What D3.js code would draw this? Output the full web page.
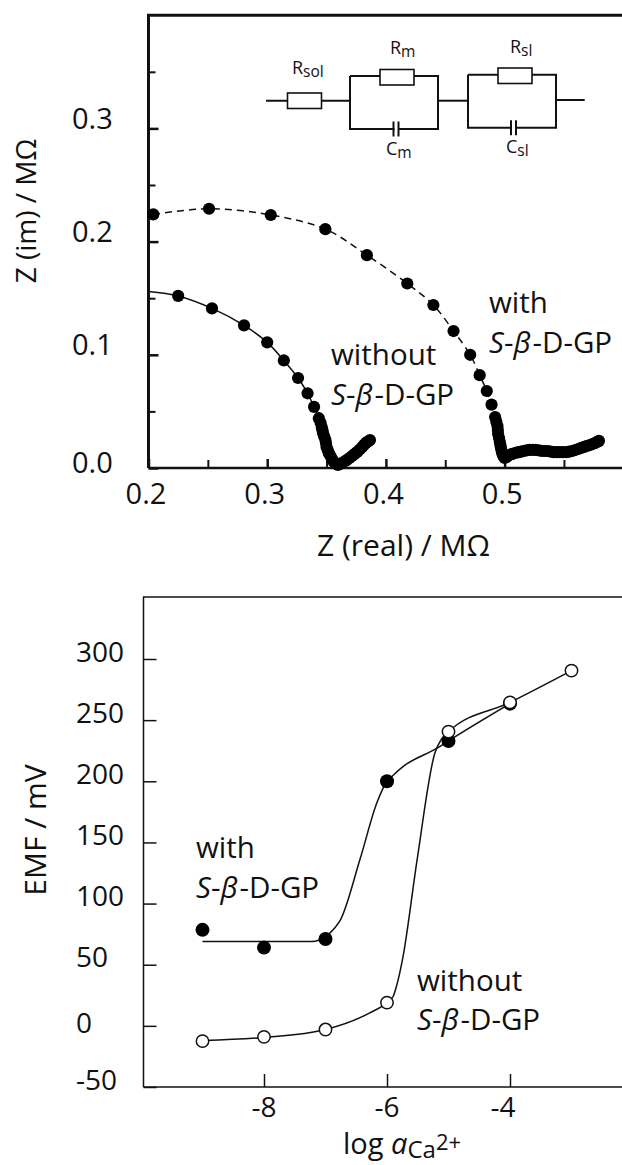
<!DOCTYPE html>
<html>
<head>
<meta charset="utf-8">
<script src="https://cdn.jsdelivr.net/npm/d3@7"></script>
<style>
  html, body { margin: 0; padding: 0; background: #fff; }
  text { font-family: "Open Sans", sans-serif; fill: #111; }
</style>
</head>
<body>
<div id="chart"></div>
<script>
// Top panel: impedance plot
const withReal = [0.204, 0.251, 0.303, 0.349, 0.384, 0.418, 0.440, 0.457, 0.471, 0.479, 0.485, 0.489, 0.492,
  0.493, 0.494, 0.4943, 0.4945, 0.4953, 0.496, 0.4965, 0.497, 0.4978, 0.4985, 0.4993, 0.500,
  0.502, 0.504, 0.506, 0.508, 0.510, 0.512, 0.514, 0.516, 0.5185, 0.521, 0.5235, 0.526, 0.529, 0.5315,
  0.534, 0.5365, 0.539, 0.5415, 0.544, 0.5465, 0.549, 0.552, 0.5545, 0.557, 0.5595, 0.562, 0.5645,
  0.567, 0.5695, 0.572, 0.574, 0.576, 0.578, 0.5795];
const withImag = [0.224, 0.229, 0.2235, 0.211, 0.188, 0.163, 0.144, 0.121, 0.100, 0.082, 0.068, 0.056, 0.045,
  0.041, 0.037, 0.0335, 0.030, 0.0265, 0.023, 0.020, 0.017, 0.014, 0.0115, 0.010, 0.009,
  0.010, 0.0115, 0.0122, 0.013, 0.0135, 0.014, 0.0145, 0.015, 0.0155, 0.016, 0.016, 0.016, 0.0155, 0.015,
  0.015, 0.015, 0.0145, 0.014, 0.014, 0.014, 0.014, 0.014, 0.0145, 0.015, 0.0159, 0.0168, 0.0177,
  0.0186, 0.0195, 0.0203, 0.0212, 0.022, 0.023, 0.024];
const withoutReal = [0.225, 0.2535, 0.2805, 0.300, 0.314, 0.326, 0.334, 0.3395, 0.3435,
  0.345, 0.346, 0.3465, 0.347, 0.348, 0.349, 0.3495, 0.350, 0.351, 0.352, 0.3533, 0.3546, 0.3558, 0.357,
  0.3583, 0.3596, 0.3613, 0.363, 0.365, 0.367, 0.3693, 0.3715, 0.3735, 0.3756, 0.378, 0.380, 0.3815,
  0.383, 0.3848, 0.3866];
const withoutImag = [0.152, 0.141, 0.126, 0.111, 0.095, 0.0795, 0.066, 0.054, 0.044,
  0.040, 0.036, 0.0335, 0.031, 0.028, 0.025, 0.022, 0.0186, 0.0158, 0.013, 0.0105, 0.008, 0.006, 0.0044,
  0.0035, 0.0027, 0.0035, 0.0044, 0.0057, 0.007, 0.0088, 0.0106, 0.0123, 0.014, 0.0163, 0.0186, 0.0203,
  0.022, 0.0233, 0.0247];
const withoutStart = [0.2, 0.156]; // line runs on to the axis, no marker there

const realTicks = [0.2, 0.3, 0.4, 0.5];
const realMinor = [0.25, 0.35, 0.45, 0.55];
const imagTicks = [0.0, 0.1, 0.2, 0.3];
const imagMinor = [0.05, 0.15, 0.25, 0.35];

// Bottom panel: potentiometric response
const logActivity = [-9, -8, -7, -6, -5, -4, -3];
const emfWith = [78.5, 64, 71, 200, 233, 263.5];
const emfWithout = [-12.5, -9, -3, 19, 240.6, 264.5, 290.5];
const fitWithX = [-9, -8, -7.22, -7, -6.85, -6.764, -6.44, -6.16, -6, -5.9, -5.74, -5.17, -5, -4];
const fitWithY = [69, 69, 69, 73, 80, 86, 136, 183, 200, 205, 212, 227.5, 233, 263.5];
const fitWithoutX = [-9, -8, -7, -6.28, -6, -5.9, -5.84, -5.74, -5.51, -5.22, -5.12, -5, -4, -3];
const fitWithoutY = [-12, -9.5, -3, 10.6, 19, 24, 33.5, 56.5, 136, 223.4, 234, 240.6, 264.5, 290.5];
const logTicks = [-8, -6, -4];
const emfTicks = [-50, 0, 50, 100, 150, 200, 250, 300];

const W = 622, H = 1165;
const svg = d3.select("#chart").append("svg")
  .attr("width", W).attr("height", H)
  .style("display", "block");

const FONT = 29.5;

function styleAxis(g, sw, size) {
  g.selectAll("path,line").attr("stroke", "#111").attr("stroke-width", sw);
  g.selectAll("text").style("font-family", '"Open Sans", sans-serif').style("font-size", size + "px").attr("fill", "#111");
}

// S-beta-D-GP label, two lines
function label(x, y1, y2, first) {
  svg.append("text").attr("x", x).attr("y", y1).attr("font-size", FONT).text(first);
  const t = svg.append("text").attr("x", x).attr("y", y2).attr("font-size", FONT);
  t.append("tspan").attr("font-style", "italic").text("S");
  t.append("tspan").text("-");
  t.append("tspan").attr("font-style", "italic").text("β");
  t.append("tspan").attr("dx", 2).text("-D-GP");
}

// ---------- top panel
const x1 = d3.scaleLinear().domain([0.2, 0.6]).range([148.5, 623.3]);
const y1 = d3.scaleLinear().domain([0, 0.4]).range([468, 15.2]);

const top1 = svg.append("g");
const ax1 = top1.append("g").attr("transform", "translate(0,468)")
  .call(d3.axisBottom(x1).tickValues(realTicks).tickSize(-9).tickFormat(d3.format(".1f")));
ax1.select(".domain").attr("d", `M148.5,0H622`);
ax1.selectAll("text").attr("x", -3).attr("y", 36).attr("dy", 0);
styleAxis(ax1, 2.5, 29);

const ax1m = top1.append("g").attr("transform", "translate(0,468)")
  .call(d3.axisBottom(x1).tickValues(realMinor).tickSize(-8).tickFormat(""));
ax1m.select(".domain").remove();
styleAxis(ax1m, 2, 29);

const ay1 = top1.append("g").attr("transform", "translate(148.5,0)")
  .call(d3.axisLeft(y1).tickValues(imagTicks).tickSize(-10).tickFormat(d3.format(".1f")));
ay1.select(".domain").attr("d", `M0,468V15.2`);
ay1.selectAll("text").attr("text-anchor", "start").attr("x", -76.5).attr("dy", 0)
  .attr("y", d => (d === 0 ? 4 : 0));
styleAxis(ay1, 2.5, 29);
ay1.select(".domain").attr("stroke-width", 3);

const ay1m = top1.append("g").attr("transform", "translate(148.5,0)")
  .call(d3.axisLeft(y1).tickValues(imagMinor).tickSize(-7).tickFormat(""));
ay1m.select(".domain").remove();
styleAxis(ay1m, 2, 29);

top1.append("line").attr("x1", x1(0.2) - 1.5).attr("x2", W)
  .attr("y1", y1(0.4)).attr("y2", y1(0.4)).attr("stroke", "#111").attr("stroke-width", 3);

const line = d3.line().curve(d3.curveCatmullRom);

const withPts = withReal.map((d, i) => [x1(d), y1(withImag[i])]);
const withoutPts = withoutReal.map((d, i) => [x1(d), y1(withoutImag[i])]);

top1.append("path").attr("d", line(withPts.slice(0, 14)))
  .attr("fill", "none").attr("stroke", "#111").attr("stroke-width", 1.5).attr("stroke-dasharray", "7,5");
top1.append("path").attr("d", line([[x1(withoutStart[0]), y1(withoutStart[1])], ...withoutPts]))
  .attr("fill", "none").attr("stroke", "#111").attr("stroke-width", 1.5);

top1.selectAll("circle.w").data(withPts).enter().append("circle").attr("class", "w")
  .attr("cx", d => d[0]).attr("cy", d => d[1]).attr("r", 6.1).attr("fill", "#000");
top1.selectAll("circle.wo").data(withoutPts).enter().append("circle").attr("class", "wo")
  .attr("cx", d => d[0]).attr("cy", d => d[1]).attr("r", 6.1).attr("fill", "#000");

label(489, 313, 353, "with");
label(331, 365, 405, "without");

svg.append("text").attr("x", 403.5).attr("y", 556).attr("text-anchor", "middle")
  .attr("font-size", 30).text("Z (real) / MΩ");
svg.append("text").attr("transform", "translate(36,211) rotate(-90)").attr("text-anchor", "middle")
  .attr("font-size", 28).text("Z (im) / MΩ");

// ---------- equivalent circuit inset
const inset = svg.append("g").attr("fill", "none").attr("stroke", "#111").attr("stroke-width", 2);
function wire(points) {
  inset.append("path").attr("d", d3.line()(points));
}
function resistor(x, y) {
  inset.append("rect").attr("x", x).attr("y", y).attr("width", 34).attr("height", 15.5)
    .attr("fill", "#fff").attr("stroke-width", 1.6);
}
function capacitor(x, y) {
  inset.append("rect").attr("x", x + 1).attr("y", y - 9).attr("width", 3.5).attr("height", 18)
    .attr("fill", "#fff").attr("stroke", "none");
  wire([[x, y - 7.5], [x, y + 7.5]]);
  wire([[x + 5, y - 7.5], [x + 5, y + 7.5]]);
}
wire([[266, 100.7], [350, 100.7]]);
resistor(287.5, 93);
wire([[350, 76], [438, 76], [438, 129], [350, 129], [350, 76]]);
resistor(380, 69.5);
capacitor(393.5, 129);
wire([[438, 100.7], [468, 100.7]]);
wire([[468, 74.7], [556, 74.7], [556, 127.7], [468, 127.7], [468, 74.7]]);
resistor(498, 68);
capacitor(511, 127.7);
wire([[556, 100], [584.7, 100]]);

function sub(x, y, a, b) {
  const t = svg.append("text").attr("x", x).attr("y", y).attr("font-size", 18).text(a);
  t.append("tspan").attr("dy", 3).attr("font-size", 15.5).text(b);
}
sub(292, 74, "R", "sol");
sub(390, 54, "R", "m");
sub(510, 52.5, "R", "sl");
sub(386, 155, "C", "m");
sub(506, 153, "C", "sl");

// ---------- bottom panel
const x2 = d3.scaleLinear().domain([-8, -4]).range([264, 510]);
const y2 = d3.scaleLinear().domain([-50, 300]).range([1087, 659]);
const topY = 597;

const bot = svg.append("g");
const ax2 = bot.append("g").attr("transform", "translate(0,1087)")
  .call(d3.axisBottom(x2).tickValues(logTicks).tickSize(-13).tickFormat(d => String(d)));
ax2.select(".domain").attr("d", `M143.5,0H622`);
ax2.selectAll("text").attr("x", d => (d === -4 ? -7.5 : -0.5)).attr("y", 30).attr("dy", 0);
styleAxis(ax2, 1.5, 28);

const ay2 = bot.append("g").attr("transform", "translate(143.5,0)")
  .call(d3.axisLeft(y2).tickValues(emfTicks).tickSize(-13).tickFormat(d => String(d)));
ay2.select(".domain").attr("d", `M0,1087V${topY}`);
ay2.selectAll("text").attr("text-anchor", "start").attr("x", -67.5).attr("dy", 0)
  .attr("y", d => (d === 0 ? 7 : 2));
styleAxis(ay2, 1.5, 28);

bot.append("line").attr("x1", 143).attr("x2", W).attr("y1", topY).attr("y2", topY)
  .attr("stroke", "#111").attr("stroke-width", 1.5);

const fit = d3.line().x(d => x2(d[0])).y(d => y2(d[1])).curve(d3.curveMonotoneX);
bot.append("path").attr("d", fit(fitWithX.map((d, i) => [d, fitWithY[i]])))
  .attr("fill", "none").attr("stroke", "#111").attr("stroke-width", 1.5);
bot.append("path").attr("d", fit(fitWithoutX.map((d, i) => [d, fitWithoutY[i]])))
  .attr("fill", "none").attr("stroke", "#111").attr("stroke-width", 1.5);

bot.selectAll("circle.f").data(emfWith).enter().append("circle").attr("class", "f")
  .attr("cx", (d, i) => x2(logActivity[i])).attr("cy", d => y2(d)).attr("r", 7).attr("fill", "#000");
bot.selectAll("circle.o").data(emfWithout).enter().append("circle").attr("class", "o")
  .attr("cx", (d, i) => x2(logActivity[i])).attr("cy", d => y2(d)).attr("r", 6.2)
  .attr("fill", "#fff").attr("stroke", "#111").attr("stroke-width", 1.5);

label(196, 858, 898, "with");
label(417, 991, 1030, "without");

const logLabel = svg.append("text").attr("x", 343).attr("y", 1154).attr("font-size", 29);
logLabel.append("tspan").text("log ");
logLabel.append("tspan").attr("font-style", "italic").text("a");
logLabel.append("tspan").attr("dy", 4).attr("font-size", 24).text("Ca");
logLabel.append("tspan").attr("dy", -8).attr("font-size", 22).text("2+");

svg.append("text").attr("transform", "translate(46,830) rotate(-90)").attr("text-anchor", "middle")
  .attr("font-size", 30).text("EMF / mV");
</script>
</body>
</html>
